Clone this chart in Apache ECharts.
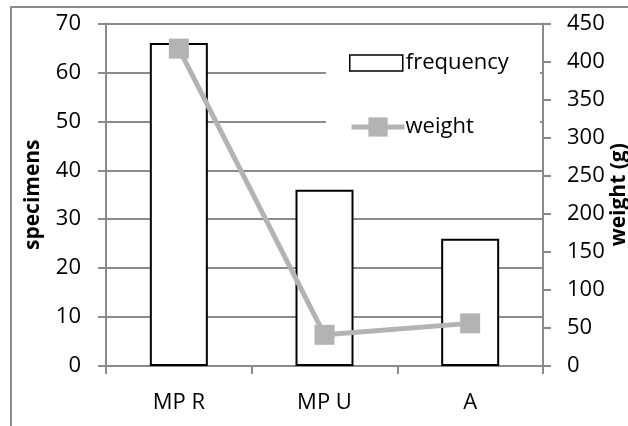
<!DOCTYPE html>
<html>
<head>
<meta charset="utf-8">
<script src="https://cdn.jsdelivr.net/npm/echarts@6/dist/echarts.min.js"></script>
<style>
html,body{margin:0;padding:0;background:#fff;}
#c{width:628px;height:426px;}
</style>
</head>
<body>
<div id="c"></div>
<script>
var categories = ['MP R', 'MP U', 'A'];
var frequency = [66, 36, 26];
var weight = [417, 41, 56];
var leftTicks = {min: 0, max: 70, interval: 10};
var rightTicks = {min: 0, max: 450, interval: 50};

var FONT = 'Open Sans';
var GRAY = '#8a8a8a';
var LINEGRAY = '#b3b3b3';
var chart = echarts.init(document.getElementById('c'), null, {renderer: 'canvas'});
chart.setOption({
  animation: false,
  backgroundColor: '#fff',
  textStyle: {fontFamily: FONT},
  grid: {left: 106, right: 85, top: 23.5, bottom: 60, containLabel: false, outerBoundsMode: 'none'},
  graphic: [
    {type: 'rect', z: -10, shape: {x: 11, y: 7, width: 700, height: 500},
     style: {fill: '#fff', stroke: GRAY, lineWidth: 2}},
    {type: 'rect', z: 1, shape: {x: 326, y: 26, width: 214, height: 142},
     style: {fill: '#fff'}}
  ],
  legend: [
    {data: [{name: 'frequency', icon: 'rect'}], left: 349, top: 52, padding: 0, orient: 'vertical',
     itemWidth: 53, itemHeight: 16, itemGap: 0, z: 5,
     itemStyle: {color: '#fff', borderColor: '#000', borderWidth: 1.5},
     textStyle: {fontFamily: FONT, fontSize: 22, color: '#000', padding: [0, 0, 0, -2]}},
    {data: ['weight'], left: 349, top: 116, padding: 0, orient: 'vertical',
     itemWidth: 53, itemHeight: 24, itemGap: 0, z: 5,
     lineStyle: {width: 5, color: LINEGRAY},
     itemStyle: {color: LINEGRAY},
     textStyle: {fontFamily: FONT, fontSize: 22, color: '#000', padding: [0, 0, 0, -4]}}
  ],
  xAxis: {
    type: 'category', data: categories,
    axisLine: {lineStyle: {color: GRAY, width: 2}},
    axisTick: {show: true, length: 8, lineStyle: {color: GRAY, width: 2}},
    axisLabel: {fontFamily: FONT, fontSize: 22, color: '#000', margin: 26},
    splitLine: {show: false}
  },
  yAxis: [
    {type: 'value', min: leftTicks.min, max: leftTicks.max, interval: leftTicks.interval, position: 'left',
     name: 'specimens', nameLocation: 'middle', nameRotate: 90, nameGap: 62, nameMoveOverlap: false,
     nameTextStyle: {fontFamily: FONT, fontSize: 21, fontWeight: 'bold', color: '#000'},
     axisLine: {show: true, lineStyle: {color: GRAY, width: 2}},
     axisTick: {show: true, length: 8, lineStyle: {color: GRAY, width: 2}},
     axisLabel: {fontFamily: FONT, fontSize: 22, color: '#000', margin: 25},
     splitLine: {show: true, lineStyle: {color: GRAY, width: 2}}},
    {type: 'value', min: rightTicks.min, max: rightTicks.max, interval: rightTicks.interval, position: 'right',
     name: 'weight (g)', nameLocation: 'middle', nameRotate: 90, nameGap: 66, nameMoveOverlap: false,
     nameTextStyle: {fontFamily: FONT, fontSize: 21, fontWeight: 'bold', color: '#000'},
     axisLine: {show: true, lineStyle: {color: GRAY, width: 2}},
     axisTick: {show: true, length: 8, lineStyle: {color: GRAY, width: 2}},
     axisLabel: {fontFamily: FONT, fontSize: 22, color: '#000', margin: 24},
     splitLine: {show: false}}
  ],
  series: [
    {name: 'frequency', type: 'bar', yAxisIndex: 0, data: frequency, barWidth: 58, z: 2,
     itemStyle: {color: '#fff', borderColor: '#000', borderWidth: 2}},
    {name: 'weight', type: 'line', yAxisIndex: 1, data: weight, z: 3,
     symbol: 'rect', symbolSize: 20,
     lineStyle: {color: LINEGRAY, width: 5},
     itemStyle: {color: LINEGRAY}}
  ]
});
</script>
</body>
</html>
